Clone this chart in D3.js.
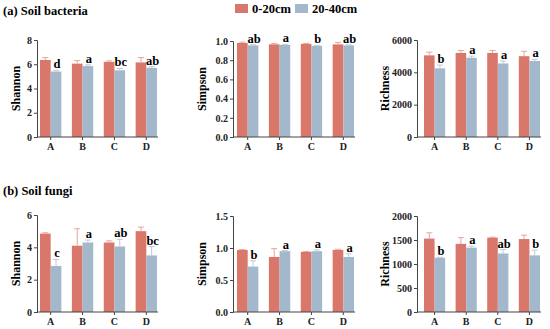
<!DOCTYPE html>
<html>
<head>
<meta charset="utf-8">
<script src="https://cdn.jsdelivr.net/npm/d3@7"></script>
<style>
  body { margin: 0; background: #fff; }
  svg text { font-family: "Liberation Serif", "Times New Roman", serif !important; font-weight: bold; }
</style>
</head>
<body>
<svg id="chart" width="550" height="329"></svg>
<script>
// categories / series
var groups = ["A", "B", "C", "D"];
var depths = ["0-20cm", "20-40cm"];
var colors = ["#d9776b", "#a3b9cb"];
var errColors = ["#e8a49c", "#bccbd8"];

// soil bacteria
var bacShannon = [6.35, 6.05, 6.2, 6.15];
var bacShannonB = [5.4, 5.85, 5.5, 5.7];
var bacShannonErr = [0.2, 0.25, 0.08, 0.4];
var bacShannonErrB = [0.1, 0.1, 0.15, 0.1];
var bacShannonSig = ["d", "a", "bc", "ab"];

var bacSimpson = [0.98, 0.965, 0.97, 0.965];
var bacSimpsonB = [0.955, 0.96, 0.95, 0.955];
var bacSimpsonErr = [0.008, 0.01, 0.005, 0.02];
var bacSimpsonErrB = [0.005, 0.005, 0.005, 0.005];
var bacSimpsonSig = ["ab", "a", "b", "ab"];

var bacRich = [5050, 5200, 5200, 5000];
var bacRichB = [4250, 4900, 4550, 4700];
var bacRichErr = [200, 150, 150, 300];
var bacRichErrB = [200, 100, 150, 100];
var bacRichSig = ["b", "a", "a", "a"];

// soil fungi
var funShannon = [4.85, 4.1, 4.3, 5.0];
var funShannonB = [2.85, 4.3, 4.05, 3.5];
var funShannonErr = [0.05, 1.05, 0.1, 0.25];
var funShannonErrB = [0.4, 0.15, 0.45, 0.55];
var funShannonSig = ["c", "a", "ab", "bc"];

var funSimpson = [0.97, 0.86, 0.94, 0.97];
var funSimpsonB = [0.71, 0.95, 0.95, 0.86];
var funSimpsonErr = [0.005, 0.13, 0.005, 0.01];
var funSimpsonErrB = [0.09, 0.01, 0.02, 0.05];
var funSimpsonSig = ["b", "a", "a", "a"];

var funRich = [1530, 1420, 1550, 1520];
var funRichB = [1130, 1340, 1220, 1180];
var funRichErr = [120, 130, 10, 80];
var funRichErrB = [10, 30, 80, 110];
var funRichSig = ["b", "a", "ab", "b"];

var panels = [
  {label: "Shannon", max: 8, ticks: [0, 2, 4, 6, 8], fmt: d3.format("d"), x0: 37, x1: 40, x2: 157, yTop: 40, yBot: 137, labX: 16,
   v: [bacShannon, bacShannonB], e: [bacShannonErr, bacShannonErrB], sig: bacShannonSig},
  {label: "Simpson", max: 1, ticks: [0, 0.2, 0.4, 0.6, 0.8, 1.0], fmt: d3.format(".1f"), x0: 233, x1: 237, x2: 354, yTop: 41, yBot: 137, labX: 202,
   v: [bacSimpson, bacSimpsonB], e: [bacSimpsonErr, bacSimpsonErrB], sig: bacSimpsonSig},
  {label: "Richness", max: 6000, ticks: [0, 2000, 4000, 6000], fmt: d3.format("d"), x0: 417, x1: 424, x2: 540, yTop: 40, yBot: 137, labX: 385,
   v: [bacRich, bacRichB], e: [bacRichErr, bacRichErrB], sig: bacRichSig},
  {label: "Shannon", max: 6, ticks: [0, 2, 4, 6], fmt: d3.format("d"), x0: 37, x1: 40, x2: 157, yTop: 215, yBot: 312, labX: 16,
   v: [funShannon, funShannonB], e: [funShannonErr, funShannonErrB], sig: funShannonSig},
  {label: "Simpson", max: 1.5, ticks: [0, 0.5, 1.0, 1.5], fmt: d3.format(".1f"), x0: 233, x1: 237, x2: 354, yTop: 216, yBot: 312, labX: 202,
   v: [funSimpson, funSimpsonB], e: [funSimpsonErr, funSimpsonErrB], sig: funSimpsonSig},
  {label: "Richness", max: 2000, ticks: [0, 500, 1000, 1500, 2000], fmt: d3.format("d"), x0: 417, x1: 424, x2: 540, yTop: 216, yBot: 312, labX: 385,
   v: [funRich, funRichB], e: [funRichErr, funRichErrB], sig: funRichSig}
];

var svg = d3.select("#chart");

// titles
svg.append("text").attr("x", 3).attr("y", 15).attr("font-size", 12.5).text("(a) Soil bacteria");
svg.append("text").attr("x", 3).attr("y", 195).attr("font-size", 12.5).text("(b) Soil fungi");

// legend
var leg = svg.append("g");
depths.forEach(function(d, i) {
  var lx = i == 0 ? 235 : 295;
  leg.append("rect").attr("x", lx).attr("y", 4).attr("width", 13).attr("height", 9).attr("fill", colors[i]);
  leg.append("text").attr("x", lx + 17).attr("y", 13).attr("font-size", 12.5).text(d);
});

panels.forEach(function(p) {
  var g = svg.append("g");
  var x = d3.scaleBand().domain(groups).range([p.x1, p.x2]).paddingInner(0.33).paddingOuter(0);
  var xs = d3.scaleBand().domain([0, 1]).range([0, x.bandwidth()]);
  var y = d3.scaleLinear().domain([0, p.max]).range([p.yBot, p.yTop]);

  // bars
  [0, 1].forEach(function(s) {
    g.selectAll(null).data(groups).enter().append("rect")
      .attr("x", function(d) { return x(d) + xs(s); })
      .attr("y", function(d, i) { return y(p.v[s][i]); })
      .attr("width", xs.bandwidth())
      .attr("height", function(d, i) { return p.yBot - y(p.v[s][i]); })
      .attr("fill", colors[s]);
    // error bars (upper only)
    var eb = g.selectAll(null).data(groups).enter().append("g").attr("stroke", errColors[s]).attr("stroke-width", 1);
    eb.append("line")
      .attr("x1", function(d) { return x(d) + xs(s) + xs.bandwidth() / 2; })
      .attr("x2", function(d) { return x(d) + xs(s) + xs.bandwidth() / 2; })
      .attr("y1", function(d, i) { return y(p.v[s][i]); })
      .attr("y2", function(d, i) { return y(p.v[s][i] + p.e[s][i]); });
    eb.append("line")
      .attr("x1", function(d) { return x(d) + xs(s) + xs.bandwidth() / 2 - 3; })
      .attr("x2", function(d) { return x(d) + xs(s) + xs.bandwidth() / 2 + 3; })
      .attr("y1", function(d, i) { return y(p.v[s][i] + p.e[s][i]); })
      .attr("y2", function(d, i) { return y(p.v[s][i] + p.e[s][i]); });
  });

  // significance letters over the 20-40cm bar
  g.selectAll(null).data(groups).enter().append("text")
    .attr("x", function(d) { return x(d) + xs(1) + xs.bandwidth() / 2 + 1; })
    .attr("y", function(d, i) { return y(p.v[1][i] + p.e[1][i]) - 2; })
    .attr("text-anchor", "middle").attr("font-size", 12.5)
    .text(function(d, i) { return p.sig[i]; });

  // y axis
  var ya = g.append("g").attr("transform", "translate(" + p.x0 + ",0)")
    .call(d3.axisLeft(y).tickValues(p.ticks).tickFormat(p.fmt).tickSize(3).tickPadding(2));
  ya.select(".domain").attr("stroke", "#444");
  ya.selectAll(".tick line").attr("stroke", "#444");
  ya.selectAll("text").attr("font-size", 10).attr("fill", "#222");

  // x axis
  var xa = g.append("g").attr("transform", "translate(0," + p.yBot + ")");
  xa.append("line").attr("x1", p.x0).attr("x2", p.x2 + 1).attr("stroke", "#444");
  xa.selectAll(null).data(groups).enter().append("line")
    .attr("x1", function(d) { return x(d) + x.bandwidth() / 2; })
    .attr("x2", function(d) { return x(d) + x.bandwidth() / 2; })
    .attr("y1", 0).attr("y2", 3).attr("stroke", "#444");
  xa.selectAll(null).data(groups).enter().append("text")
    .attr("x", function(d) { return x(d) + x.bandwidth() / 2; })
    .attr("y", 13).attr("text-anchor", "middle").attr("font-size", 10).attr("fill", "#222")
    .text(function(d) { return d; });

  // y label
  g.append("text")
    .attr("transform", "translate(" + (p.labX + 4) + "," + ((p.yTop + p.yBot) / 2) + ") rotate(-90)")
    .attr("text-anchor", "middle").attr("font-size", 12)
    .text(p.label);
});
</script>
</body>
</html>
